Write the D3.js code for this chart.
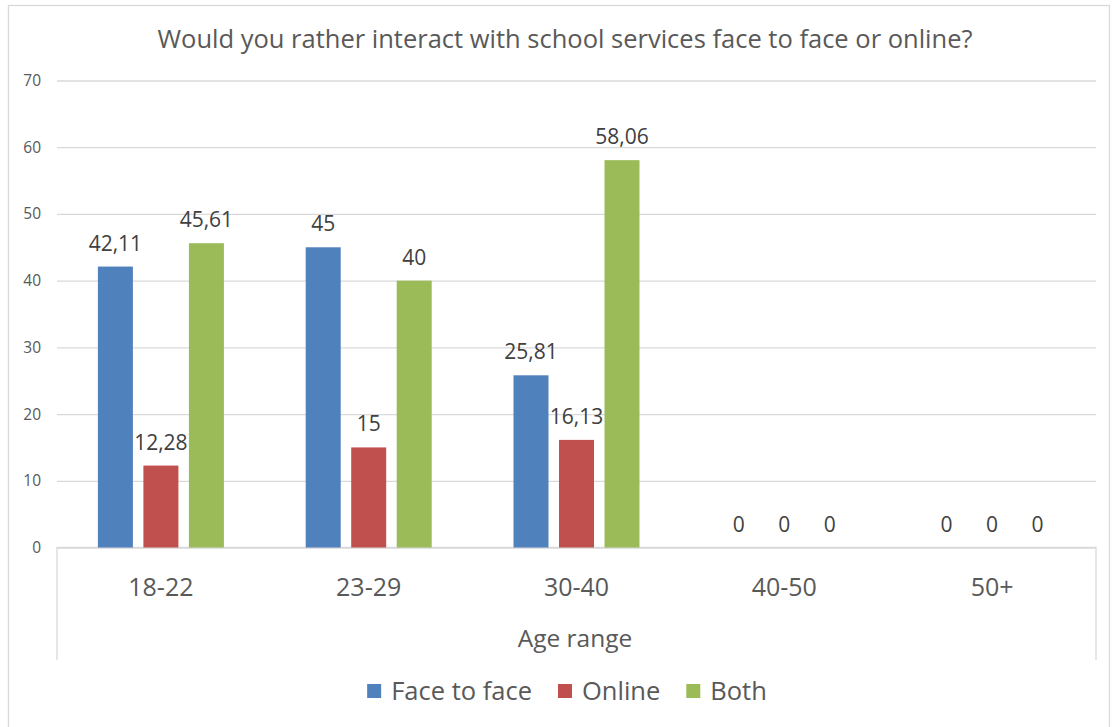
<!DOCTYPE html>
<html>
<head>
<meta charset="utf-8">
<script src="https://cdn.jsdelivr.net/npm/d3@7"></script>
<style>
  html, body { margin: 0; padding: 0; background: #fff; }
  svg { display: block; }
  text { font-family: "Open Sans", "Noto Sans", sans-serif; }
</style>
</head>
<body>
<svg id="chart" width="1118" height="727"></svg>
<script>
// Survey answers by age range (percent of respondents)
const categories = ["18-22", "23-29", "30-40", "40-50", "50+"];
const seriesNames = ["Face to face", "Online", "Both"];
const faceToFace = [42.11, 45, 25.81, 0, 0];
const online = [12.28, 15, 16.13, 0, 0];
const both = [45.61, 40, 58.06, 0, 0];
const yTicks = [0, 10, 20, 30, 40, 50, 60, 70];
const seriesColors = ["#4F81BD", "#C0504D", "#9BBB59"];

const seriesValues = [faceToFace, online, both];
const fmt = v => String(v).replace(".", ",");

const svg = d3.select("#chart");

// Chart frame
svg.append("rect")
  .attr("x", 8.5).attr("y", 5.5)
  .attr("width", 1101).attr("height", 740)
  .attr("fill", "#fff").attr("stroke", "#d9d9d9").attr("stroke-width", 1.3);

const plot = { left: 57, right: 1096, top: 80.5, bottom: 547.5 };

const x = d3.scaleBand().domain(categories).range([plot.left, plot.right]);
const y = d3.scaleLinear().domain([0, 70]).range([plot.bottom, plot.top]);

// Title
svg.append("text")
  .attr("x", 565).attr("y", 48)
  .attr("text-anchor", "middle")
  .attr("fill", "#595959")
  .attr("font-size", 25.5)
  .text("Would you rather interact with school services face to face or online?");

// Gridlines and y tick labels
const yAxis = d3.axisLeft(y).tickValues(yTicks).tickSize(-(plot.right - plot.left)).tickPadding(16);
const gy = svg.append("g").attr("transform", `translate(${plot.left},0)`).call(yAxis);
gy.select(".domain").remove();
gy.selectAll(".tick line").attr("stroke", "#d9d9d9").attr("stroke-width", 1.3);
gy.selectAll(".tick text").attr("fill", "#595959").attr("font-size", 15.5)
  .attr("font-family", "'Open Sans', sans-serif");

// Category box below the axis
const boxBottom = 660;
svg.append("path")
  .attr("d", `M${plot.left},${boxBottom}V${plot.bottom}H${plot.right}V${boxBottom}`)
  .attr("fill", "none").attr("stroke", "#d9d9d9").attr("stroke-width", 1.3);

// Bars
const groupWidth = 126, barWidth = 35;
const barStep = (groupWidth - barWidth) / 2;
const rows = [];
categories.forEach((c, i) => {
  seriesNames.forEach((s, j) => {
    rows.push({ cat: c, series: j, value: seriesValues[j][i] });
  });
});
const barX = d => x(d.cat) + x.bandwidth() / 2 - groupWidth / 2 + d.series * barStep;

svg.append("g").selectAll("rect").data(rows).join("rect")
  .attr("x", barX)
  .attr("y", d => y(d.value))
  .attr("width", barWidth)
  .attr("height", d => y(0) - y(d.value))
  .attr("fill", d => seriesColors[d.series]);

// Value labels
svg.append("g").selectAll("text").data(rows).join("text")
  .attr("x", d => barX(d) + barWidth / 2)
  .attr("y", d => y(d.value) - 16)
  .attr("text-anchor", "middle")
  .attr("fill", "#404040")
  .attr("font-size", 21)
  .text(d => fmt(d.value));

// Category labels
svg.append("g").selectAll("text").data(categories).join("text")
  .attr("x", d => x(d) + x.bandwidth() / 2)
  .attr("y", 596)
  .attr("text-anchor", "middle")
  .attr("fill", "#595959")
  .attr("font-size", 25)
  .text(d => d);

// Axis title
svg.append("text")
  .attr("x", 575).attr("y", 647)
  .attr("text-anchor", "middle")
  .attr("fill", "#595959")
  .attr("font-size", 24.5)
  .text("Age range");

// Legend, laid out left to right and centred
const sw = 14, swGap = 10, itemGap = 26, legendCenter = 567, legendBaseline = 700;
const lg = svg.append("g");
const items = lg.selectAll("g").data(seriesNames).join("g");
items.append("rect").attr("width", sw).attr("height", sw).attr("y", legendBaseline - 16)
  .attr("fill", (d, i) => seriesColors[i]);
items.append("text").attr("x", sw + swGap).attr("y", legendBaseline)
  .attr("fill", "#595959").attr("font-size", 25.5).text(d => d);
let offset = 0;
const offsets = [];
items.each(function () {
  offsets.push(offset);
  const w = d3.select(this).select("text").node().getComputedTextLength();
  offset += sw + swGap + w + itemGap;
});
const totalW = offset - itemGap;
items.attr("transform", (d, i) => `translate(${legendCenter - totalW / 2 + offsets[i]},0)`);
</script>
</body>
</html>
